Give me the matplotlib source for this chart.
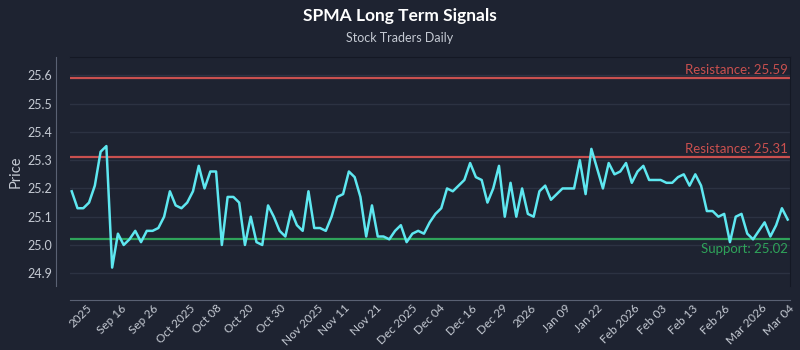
import matplotlib

matplotlib.use("Agg")

import matplotlib.pyplot as plt
import numpy as np

# closing prices, one per trading day
prices = [
    25.19, 25.13, 25.13, 25.15, 25.21, 25.33, 25.35, 24.92, 25.04, 25.00,
    25.02, 25.05, 25.01, 25.05, 25.05, 25.06, 25.10, 25.19, 25.14, 25.13,
    25.15, 25.19, 25.28, 25.20, 25.26, 25.26, 25.00, 25.17, 25.17, 25.15,
    25.00, 25.10, 25.01, 25.00, 25.14, 25.10, 25.05, 25.03, 25.12, 25.07,
    25.05, 25.19, 25.06, 25.06, 25.05, 25.10, 25.17, 25.18, 25.26, 25.24,
    25.17, 25.03, 25.14, 25.03, 25.03, 25.02, 25.05, 25.07, 25.01, 25.04,
    25.05, 25.04, 25.08, 25.11, 25.13, 25.20, 25.19, 25.21, 25.23, 25.29,
    25.24, 25.23, 25.15, 25.20, 25.28, 25.10, 25.22, 25.10, 25.20, 25.11,
    25.10, 25.19, 25.21, 25.16, 25.18, 25.20, 25.20, 25.20, 25.30, 25.18,
    25.34, 25.27, 25.20, 25.29, 25.25, 25.26, 25.29, 25.22, 25.26, 25.28,
    25.23, 25.23, 25.23, 25.22, 25.22, 25.24, 25.25, 25.21, 25.25, 25.21,
    25.12, 25.12, 25.10, 25.11, 25.01, 25.10, 25.11, 25.04, 25.02, 25.05,
    25.08, 25.03, 25.07, 25.13, 25.09,
]

tick_labels = [
    "2025", "Sep 16", "Sep 26", "Oct 2025", "Oct 08", "Oct 20", "Oct 30",
    "Nov 2025", "Nov 11", "Nov 21", "Dec 2025", "Dec 04", "Dec 16", "Dec 29",
    "2026", "Jan 09", "Jan 22", "Feb 2026", "Feb 03", "Feb 13", "Feb 26",
    "Mar 2026", "Mar 04",
]

resistance_levels = [25.59, 25.31]
support_levels = [25.02]

BG = "#1e2331"
LINE = "#5ee7f0"
RED = "#c9504f"
GREEN = "#2fa35a"
TEXT = "#c5cad3"

plt.rcParams["font.family"] = ["Lato", "DejaVu Sans"]

fig = plt.figure(figsize=(8, 3.5), dpi=100, facecolor=BG)
ax = fig.add_axes([0.0875, 0.183, 0.9, 0.654])
ax.set_facecolor(BG)

x = np.arange(len(prices))
ax.plot(x, prices, color=LINE, linewidth=1.8, zorder=3)

for level in resistance_levels:
    ax.axhline(level, color=RED, linewidth=1.6, zorder=2)
    ax.text(0.997, level + 0.008, f"Resistance: {level:.2f}", color=RED,
            fontsize=9.5, ha="right", va="bottom",
            transform=ax.get_yaxis_transform())
for level in support_levels:
    ax.axhline(level, color=GREEN, linewidth=1.6, zorder=2)
    ax.text(0.997, level - 0.012, f"Support: {level:.2f}", color=GREEN,
            fontsize=9.5, ha="right", va="top",
            transform=ax.get_yaxis_transform())

ax.set_xlim(-0.3, len(prices) - 0.6)
ax.set_ylim(24.855, 25.665)
ax.set_yticks(np.arange(24.9, 25.65, 0.1))
ax.yaxis.set_major_formatter(matplotlib.ticker.FormatStrFormatter("%.1f"))
ax.set_xticks(np.linspace(1.5, len(prices) - 2.5, len(tick_labels)))
ax.set_xticklabels(tick_labels)

ax.grid(axis="y", color="#2c3242", linewidth=1.0, zorder=0)
ax.tick_params(colors=TEXT, length=0)
ax.tick_params(axis="y", pad=3, labelsize=9)
ax.tick_params(axis="x", pad=2, labelsize=8.5, labelrotation=45)
plt.setp(ax.get_xticklabels(), ha="right", rotation_mode="default")
ax.set_ylabel("Price", color=TEXT, fontsize=10.5, labelpad=3)

for side in ["top", "right"]:
    ax.spines[side].set_color("#141824")
for side in ["left", "bottom"]:
    ax.spines[side].set_position(("outward", 10))
    ax.spines[side].set_color("#5a6173")

fig.text(0.5, 0.955, "SPMA Long Term Signals", color="white", fontsize=12.5,
         fontweight="bold", ha="center", va="center")
fig.text(0.5, 0.89, "Stock Traders Daily", color=TEXT, fontsize=9,
         ha="center", va="center")

fig.savefig("out.png", dpi=100, facecolor=BG)
